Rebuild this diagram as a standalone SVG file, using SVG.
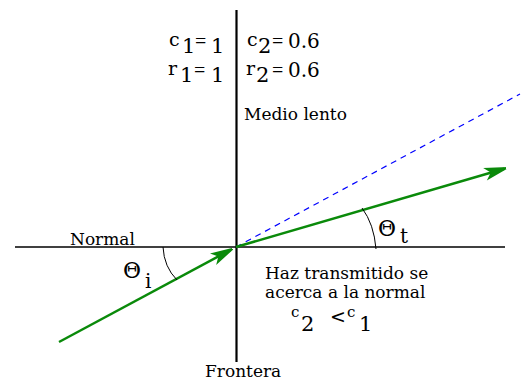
<svg xmlns="http://www.w3.org/2000/svg" width="523" height="383" viewBox="0 0 523 383">
<style>
.lbl{font-family:"DejaVu Serif","Liberation Serif",serif;font-size:17px;fill:#000}
.m{font-family:"DejaVu Serif","Liberation Serif",serif;fill:#000}
.eq{font-family:"Liberation Serif",serif;fill:#000}
.ray{stroke:#0a8a0a;stroke-width:2.5;fill:none}
.axis{stroke:#000;fill:none}
</style>
<defs>
<marker id="ah" viewBox="-28 -8 30 16" refX="0" refY="0" markerWidth="30" markerHeight="16" markerUnits="userSpaceOnUse" orient="auto">
<path d="M6,0 L-20,-6.5 L-14,0 L-20,6.5 Z" fill="#0a8a0a"/>
</marker>
</defs>
<rect width="523" height="383" fill="#fff"/>
<g id="axes">
<line class="axis" x1="236.5" y1="10" x2="236.5" y2="362" stroke-width="2.2"/>
<line class="axis" x1="15" y1="247" x2="505" y2="247" stroke-width="1.5"/>
</g>
<g id="connectors">
<line x1="236" y1="247" x2="520" y2="94" stroke="#0000ff" stroke-width="1.2" stroke-dasharray="6,5"/>
<line class="ray" x1="59" y1="342" x2="230.7" y2="249.8" marker-end="url(#ah)"/>
<line class="ray" x1="236" y1="247" x2="504.2" y2="168.7" marker-end="url(#ah)"/>
<path d="M163,247 Q164,267 177,280" fill="none" stroke="#000" stroke-width="1"/>
<path d="M362,208 Q374,224 376,249" fill="none" stroke="#000" stroke-width="1"/>
</g>
<g id="medium1">
<text class="m" x="169" y="46" font-size="19">c</text>
<text class="m" x="182" y="53" font-size="21">1</text>
<text class="eq" x="195" y="48" font-size="20">=</text>
<text class="m" x="211" y="53" font-size="21">1</text>
<text class="m" x="168" y="75" font-size="19">r</text>
<text class="m" x="180" y="82" font-size="21">1</text>
<text class="eq" x="194" y="77" font-size="20">=</text>
<text class="m" x="211" y="82" font-size="21">1</text>
</g>
<g id="medium2">
<text class="m" x="247" y="46" font-size="19">c</text>
<text class="m" x="258" y="53" font-size="21">2</text>
<text class="eq" x="272" y="48" font-size="20">=</text>
<text class="m" x="288" y="48" font-size="20">0.6</text>
<text class="m" x="246" y="75" font-size="19">r</text>
<text class="m" x="256" y="82" font-size="21">2</text>
<text class="eq" x="272" y="77" font-size="20">=</text>
<text class="m" x="288" y="77" font-size="20">0.6</text>
<text class="lbl" x="244" y="120">Medio lento</text>
</g>
<g id="labels">
<text class="lbl" x="70" y="245">Normal</text>
<text class="m" x="123" y="278" font-size="22">Θ</text>
<text class="m" x="145" y="288" font-size="20">i</text>
<text class="m" x="378" y="236" font-size="22">Θ</text>
<text class="m" x="400" y="243" font-size="20">t</text>
<text class="lbl" x="265" y="279">Haz transmitido se</text>
<text class="lbl" x="265" y="298">acerca a la normal</text>
<text class="m" x="291" y="317" font-size="15">c</text>
<text class="m" x="301" y="331" font-size="21">2</text>
<text class="m" x="330" y="323" font-size="19">&lt;</text>
<text class="m" x="347" y="317" font-size="15">c</text>
<text class="m" x="359" y="331" font-size="21">1</text>
<text class="lbl" x="205" y="377">Frontera</text>
</g>
</svg>
